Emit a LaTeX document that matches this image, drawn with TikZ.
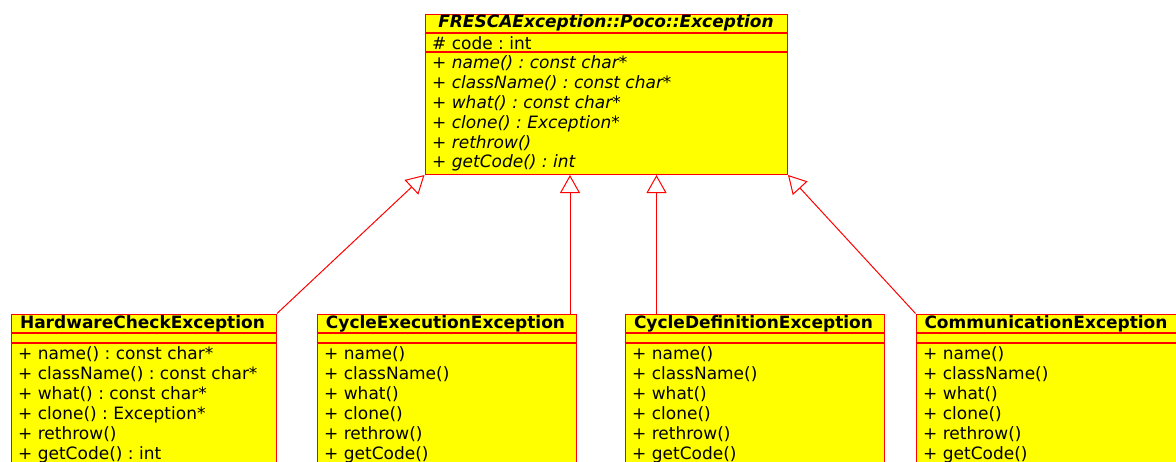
\documentclass[tikz,border=0pt]{standalone}
\usepackage{fontspec}
\setmainfont{DejaVu Sans}
\usetikzlibrary{arrows.meta}
\definecolor{umlyellow}{RGB}{255,255,0}
\definecolor{umlred}{RGB}{255,0,0}
\frenchspacing
\begin{document}
\begin{tikzpicture}[x=1pt,y=-1pt,
  classbox/.style={draw=umlred, fill=umlyellow, line width=1.5pt, inner sep=0pt, anchor=north west},
  sepline/.style={draw=umlred, line width=1.5pt},
  txt/.style={anchor=base west, inner sep=0pt, font=\fontsize{17}{20}\selectfont\frenchspacing},
  itxt/.style={anchor=base west, inner sep=0pt, font=\fontsize{17}{20}\selectfont\itshape\frenchspacing},
  ttl/.style={anchor=base, inner sep=0pt, font=\fontsize{17}{20}\selectfont\bfseries},
  ittl/.style={anchor=base, inner sep=0pt, font=\fontsize{17}{20}\selectfont\bfseries\itshape},
  inh/.style={draw=umlred, line width=1pt, -{Triangle[open, length=18pt, width=20pt, fill=white]}}]
\useasboundingbox (0,0) rectangle (1176,461);
\clip (0,0) rectangle (1176,461);

% base class
\node[classbox, minimum width=362pt, minimum height=160pt] (base) at (424.5,13.5) {};
\draw[sepline] (base.west |- 0,33) -- (base.east |- 0,33);
\draw[sepline] (base.west |- 0,52) -- (base.east |- 0,52);
\node[ittl] (bt) at (606,27) {FRESCAException::Poco::Exception};
\node[txt] (ba) at (432,49) {\# code : int};
\node[itxt] (bm1) at (432,68) {+ name() : const char*};
\node[itxt] (bm2) at (432,88) {+ className() : const char*};
\node[itxt] (bm3) at (432,108) {+ what() : const char*};
\node[itxt] (bm4) at (432,128) {+ clone() : Exception*};
\node[itxt] (bm5) at (432,148) {+ rethrow()};
\node[itxt] (bm6) at (432,167) {+ getCode() : int};

% HardwareCheckException
\node[classbox, minimum width=265pt, minimum height=170pt] (hw) at (10.5,313.5) {};
\draw[sepline] (hw.west |- 0,333) -- (hw.east |- 0,333);
\draw[sepline] (hw.west |- 0,343) -- (hw.east |- 0,343);
\node[ttl] (hwt) at (142.5,328) {HardwareCheckException};
\node[txt] (hw1) at (18,359) {+ name() : const char*};
\node[txt] (hw2) at (18,379) {+ className() : const char*};
\node[txt] (hw3) at (18,399) {+ what() : const char*};
\node[txt] (hw4) at (18,419) {+ clone() : Exception*};
\node[txt] (hw5) at (18,439) {+ rethrow()};
\node[txt] (hw6) at (18,459) {+ getCode() : int};

% CycleExecutionException
\node[classbox, minimum width=259pt, minimum height=170pt] (ce) at (316.5,313.5) {};
\draw[sepline] (ce.west |- 0,333) -- (ce.east |- 0,333);
\draw[sepline] (ce.west |- 0,343) -- (ce.east |- 0,343);
\node[ttl] (cet) at (445.5,328) {CycleExecutionException};
\node[txt] (ce1) at (324,359) {+ name()};
\node[txt] (ce2) at (324,379) {+ className()};
\node[txt] (ce3) at (324,399) {+ what()};
\node[txt] (ce4) at (324,419) {+ clone()};
\node[txt] (ce5) at (324,439) {+ rethrow()};
\node[txt] (ce6) at (324,459) {+ getCode()};

% CycleDefinitionException
\node[classbox, minimum width=259pt, minimum height=170pt] (cd) at (624.5,313.5) {};
\draw[sepline] (cd.west |- 0,333) -- (cd.east |- 0,333);
\draw[sepline] (cd.west |- 0,343) -- (cd.east |- 0,343);
\node[ttl] (cdt) at (753.5,328) {CycleDefinitionException};
\node[txt] (cd1) at (632,359) {+ name()};
\node[txt] (cd2) at (632,379) {+ className()};
\node[txt] (cd3) at (632,399) {+ what()};
\node[txt] (cd4) at (632,419) {+ clone()};
\node[txt] (cd5) at (632,439) {+ rethrow()};
\node[txt] (cd6) at (632,459) {+ getCode()};

% CommunicationException
\node[classbox, minimum width=262pt, minimum height=170pt] (cm) at (915.5,313.5) {};
\draw[sepline] (cm.west |- 0,333) -- (cm.east |- 0,333);
\draw[sepline] (cm.west |- 0,343) -- (cm.east |- 0,343);
\node[ttl] (cmt) at (1046,328) {CommunicationException};
\node[txt] (cm1) at (923,359) {+ name()};
\node[txt] (cm2) at (923,379) {+ className()};
\node[txt] (cm3) at (923,399) {+ what()};
\node[txt] (cm4) at (923,419) {+ clone()};
\node[txt] (cm5) at (923,439) {+ rethrow()};
\node[txt] (cm6) at (923,459) {+ getCode()};

% inheritance
\draw[inh] (hw.north east) -- (base.south west);
\draw[inh] ([xshift=-7pt]ce.north east) -- ([xshift=-7pt]ce.north east |- base.south);
\draw[inh] ([xshift=32pt]cd.north west) -- ([xshift=32pt]cd.north west |- base.south);
\draw[inh] (cm.north west) -- (base.south east);
\end{tikzpicture}
\end{document}
